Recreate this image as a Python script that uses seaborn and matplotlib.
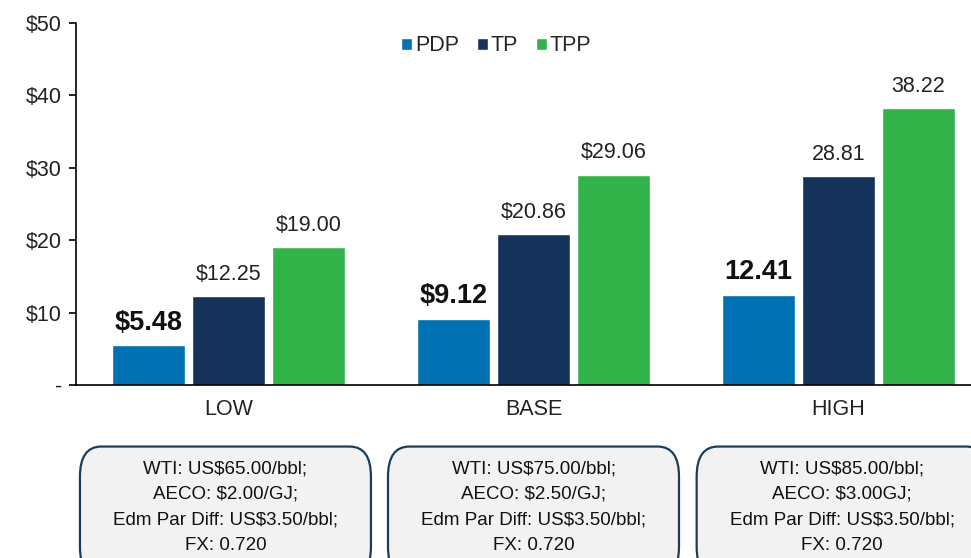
import matplotlib
matplotlib.use("Agg")
import matplotlib.pyplot as plt
import seaborn as sns
import pandas as pd
from matplotlib.patches import FancyBboxPatch
import matplotlib.transforms as mtransforms

categories = ["LOW", "BASE", "HIGH"]
series = ["PDP", "TP", "TPP"]
pdp = [5.48, 9.12, 12.41]
tp = [12.25, 20.86, 28.81]
tpp = [19.00, 29.06, 38.22]
pdp_labels = ["$5.48", "$9.12", "12.41"]
tp_labels = ["$12.25", "$20.86", "28.81"]
tpp_labels = ["$19.00", "$29.06", "38.22"]
yticks = [0, 10, 20, 30, 40, 50]
ytick_labels = ["-", "$10", "$20", "$30", "$40", "$50"]
box_texts = [
    "WTI: US$65.00/bbl;\nAECO: $2.00/GJ;\nEdm Par Diff: US$3.50/bbl;\nFX: 0.720",
    "WTI: US$75.00/bbl;\nAECO: $2.50/GJ;\nEdm Par Diff: US$3.50/bbl;\nFX: 0.720",
    "WTI: US$85.00/bbl;\nAECO: $3.00GJ;\nEdm Par Diff: US$3.50/bbl;\nFX: 0.720",
]
colors = ["#0071B2", "#15335A", "#32B34A"]

sns.set_theme(style="white")
plt.rcParams["font.family"] = ["Liberation Sans", "DejaVu Sans"]

df = pd.DataFrame({
    "scenario": categories * 3,
    "series": [s for s in series for _ in categories],
    "value": pdp + tp + tpp,
})

fig = plt.figure(figsize=(9.71, 5.58), dpi=100)
ax = fig.add_axes([76 / 971, 173 / 558, 915 / 971, 362 / 558])
sns.barplot(data=df, x="scenario", y="value", hue="series", order=categories,
            hue_order=series, palette=colors, width=0.786, gap=0.09,
            saturation=1, ax=ax, errorbar=None)

ax.set_xlim(-0.5, 2.5)
ax.set_ylim(0, 50)
ax.set_yticks(yticks)
ax.set_yticklabels(ytick_labels, fontsize=15.5, color="#222222")
ax.set_xticks(range(3))
ax.set_xticklabels(categories, fontsize=15.5, color="#222222")
ax.set_xticks([-0.5, 0.5, 1.5, 2.5], minor=True)
ax.tick_params(axis="x", which="major", length=0, pad=10)
ax.tick_params(axis="x", which="minor", length=5, width=1.2, color="black", direction="out")
ax.tick_params(axis="y", length=5, width=1.2, color="black", direction="out", pad=5, left=True)
ax.set_xlabel("")
ax.set_ylabel("")
for s in ["top", "right"]:
    ax.spines[s].set_visible(False)
for s in ["left", "bottom"]:
    ax.spines[s].set_color("black")
    ax.spines[s].set_linewidth(1.2)

labels_all = [pdp_labels, tp_labels, tpp_labels]
for i, cont in enumerate(ax.containers):
    if i == 0:
        ax.bar_label(cont, labels=labels_all[i], padding=7, fontsize=19.5,
                     fontweight="bold", color="#111111")
    else:
        ax.bar_label(cont, labels=labels_all[i], padding=8, fontsize=15.5,
                     color="#222222")

leg = ax.legend(loc="center", bbox_to_anchor=(0.4595, 0.937), ncol=3, frameon=False,
                fontsize=15.5, handlelength=0.5, handleheight=0.5, handletextpad=0.15,
                columnspacing=0.82)

trans = mtransforms.blended_transform_factory(ax.transData, ax.transAxes)
box_offsets = [-0.01, 0.0, 0.012]
for i, txt in enumerate(box_texts):
    w = 291 / 305
    cx = i + box_offsets[i]
    box = FancyBboxPatch((cx - w / 2, -0.53), w, 0.36,
                         boxstyle="round,pad=0,rounding_size=0.07",
                         mutation_aspect=362 / 305,
                         transform=trans, facecolor="#F2F2F2", edgecolor="#1B3D5C",
                         linewidth=1.6, clip_on=False)
    ax.add_patch(box)
    ax.text(cx, -(507 - 385) / 362, txt, transform=trans, ha="center", va="center",
            fontsize=13.5, linespacing=1.66, color="#111111", clip_on=False)

fig.savefig("out.png", dpi=100)
